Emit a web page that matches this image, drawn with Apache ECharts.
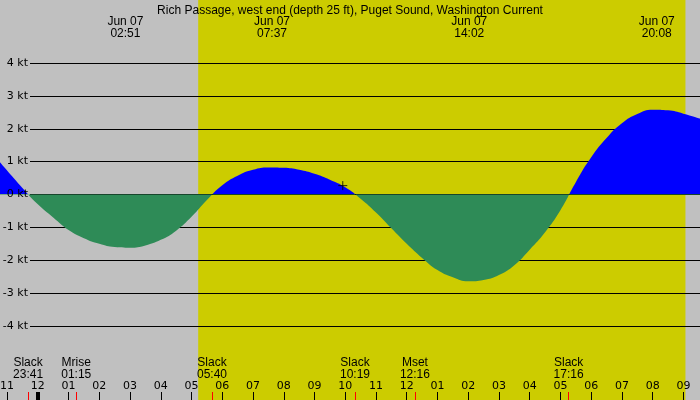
<!DOCTYPE html>
<html>
<head>
<meta charset="utf-8">
<script src="https://cdn.jsdelivr.net/npm/echarts@6/dist/echarts.min.js"></script>
<style>
  html, body { margin: 0; padding: 0; background: #c0c0c0; }
  #chart { width: 700px; height: 400px; }
</style>
</head>
<body>
<div id="chart"></div>
<script>
// tidal current, hours from Jun 07 00:00 (negative = Jun 06), read every half hour
const curHours = [-1.23, -0.5, 0, 0.5, 1, 1.5, 2, 2.5, 3, 3.5, 4, 4.5, 5, 5.5,
                  6, 6.5, 7, 7.5, 8, 8.5, 9, 9.5, 10, 10.5, 11, 11.5, 12, 12.5,
                  13, 13.5, 14, 14.5, 15, 15.5, 16, 16.5, 17, 17.5, 18, 18.5,
                  19, 19.5, 20, 20.5, 21, 21.54];
const curKnots = [0.98, 0.2, -0.3, -0.7, -1.08, -1.33, -1.5, -1.6, -1.62, -1.55, -1.38, -1.1, -0.68, -0.17,
                  0.28, 0.57, 0.75, 0.82, 0.81, 0.75, 0.63, 0.45, 0.22, -0.13, -0.55, -1.03, -1.5, -1.93,
                  -2.3, -2.52, -2.64, -2.6, -2.45, -2.15, -1.68, -1.15, -0.48, 0.37, 1.13, 1.72,
                  2.17, 2.45, 2.58, 2.56, 2.46, 2.31];

const hourTicks = [-1, 0, 1, 2, 3, 4, 5, 6, 7, 8, 9, 10, 11, 12, 13, 14, 15, 16, 17, 18, 19, 20, 21];

const eventNames = ['Slack', 'Mrise', 'Slack', 'Slack', 'Mset', 'Slack'];
const eventTimes = ['23:41', '01:15', '05:40', '10:19', '12:16', '17:16'];
const eventDays = [-1, 0, 0, 0, 0, 0];

const peakDates = ['Jun 07', 'Jun 07', 'Jun 07', 'Jun 07'];
const peakTimes = ['02:51', '07:37', '14:02', '20:08'];

const daylight = ['05:13', '21:04'];
const nowMark = [9.92, 0.27];

const X_MIN = -1.23, X_MAX = 21.54;

function toHour(s, day) {
    const p = s.split(':');
    return (day || 0) * 24 + Number(p[0]) + Number(p[1]) / 60;
}

const eventHours = eventTimes.map((t, i) => toHour(t, eventDays[i]));
const peakHours = peakTimes.map(t => toHour(t));
const dayStart = toHour(daylight[0]);
const dayEnd = toHour(daylight[1]);

const bottomFont = { fontFamily: 'DejaVu Sans', fontSize: 11, color: '#000' };

function timeAxis(extra) {
    return Object.assign({
        gridIndex: 2,
        type: 'value',
        min: X_MIN,
        max: X_MAX,
        position: 'bottom',
        z: 3,
        axisLine: { show: false },
        splitLine: { show: false },
    }, extra);
}

function ktAxis(extra) {
    return Object.assign({
        gridIndex: 1,
        type: 'value',
        position: 'left',
        min: -4,
        max: 4,
        interval: 1,
        axisLine: { show: false },
        axisTick: { show: false },
    }, extra);
}

const chart = echarts.init(document.getElementById('chart'));
chart.setOption({
    backgroundColor: '#c0c0c0',
    animation: false,
    title: {
        text: 'Rich Passage, west end (depth 25 ft), Puget Sound, Washington Current',
        left: 'center',
        top: 0,
        textStyle: { fontFamily: 'Liberation Sans', fontSize: 12, fontWeight: 'normal', color: '#000' }
    },
    grid: [
        { left: 0, right: 0, top: 63, bottom: 74, containLabel: false, outerBoundsMode: 'none' },
        { left: 30, right: 0, top: 63, bottom: 74, containLabel: false, outerBoundsMode: 'none' },
        { left: 0, right: 0, top: 0, bottom: 0, containLabel: false, outerBoundsMode: 'none' }
    ],
    visualMap: {
        type: 'piecewise',
        show: false,
        seriesIndex: 1,
        dimension: 1,
        pieces: [
            { gte: -10, lt: 0, color: '#2e8b57' },
            { gte: 0, lte: 10, color: '#0000ff' }
        ]
    },
    xAxis: [
        { gridIndex: 0, type: 'value', min: X_MIN, max: X_MAX, show: false },
        { gridIndex: 1, type: 'value', min: X_MIN, max: X_MAX, show: false },
        // hour ticks
        timeAxis({
            axisTick: { inside: true, length: 8, customValues: hourTicks, lineStyle: { color: '#000', width: 1 } },
            axisLabel: {
                inside: true,
                margin: 8,
                customValues: hourTicks,
                ...bottomFont,
                formatter: v => {
                    const h = ((Math.round(v) % 12) + 12) % 12 || 12;
                    return (h < 10 ? '0' : '') + h;
                }
            }
        }),
        // slack / moon events
        timeAxis({
            axisTick: { inside: true, length: 8, customValues: eventHours, lineStyle: { color: '#ff0000', width: 1 } },
            axisLabel: {
                inside: true,
                margin: 19,
                customValues: eventHours,
                fontFamily: 'Liberation Sans',
                fontSize: 12,
                lineHeight: 12,
                color: '#000',
                formatter: v => {
                    const i = eventHours.indexOf(v);
                    return eventNames[i] + '\n' + eventTimes[i];
                }
            }
        }),
        // midnight
        timeAxis({
            axisTick: { inside: true, length: 8, customValues: [0], lineStyle: { color: '#000', width: 4 } },
            axisLabel: { show: false }
        }),
        // peak labels at top
        timeAxis({
            position: 'top',
            axisTick: { show: false },
            axisLabel: {
                inside: true,
                margin: 16,
                customValues: peakHours,
                fontFamily: 'Liberation Sans',
                fontSize: 12,
                lineHeight: 12,
                color: '#000',
                formatter: v => {
                    const i = peakHours.indexOf(v);
                    return peakDates[i] + '\n' + peakTimes[i];
                }
            }
        })
    ],
    yAxis: [
        { gridIndex: 0, type: 'value', min: -4, max: 4, show: false },
        // kt lines, below the current
        ktAxis({
            z: 1,
            axisLabel: { show: false },
            splitLine: { lineStyle: { color: '#000', width: 1 } }
        }),
        { gridIndex: 2, type: 'value', min: 0, max: 1, show: false },
        // kt labels, above the current
        ktAxis({
            z: 5,
            splitLine: { show: false },
            axisLabel: { margin: 2, formatter: '{value} kt', ...bottomFont }
        })
    ],
    series: [
        {
            // daylight band
            type: 'custom',
            xAxisIndex: 2,
            yAxisIndex: 2,
            z: 0,
            silent: true,
            data: [[dayStart, dayEnd, 0, 1]],
            encode: { x: [0, 1], y: [2, 3] },
            renderItem: (params, api) => {
                const p0 = api.coord([api.value(0), 1]);
                const p1 = api.coord([api.value(1), 0]);
                return {
                    type: 'rect',
                    shape: { x: p0[0], y: p0[1], width: p1[0] - p0[0], height: p1[1] - p0[1] },
                    style: { fill: '#cccc00' }
                };
            }
        },
        {
            type: 'line',
            xAxisIndex: 0,
            yAxisIndex: 0,
            z: 2,
            smooth: 0.5,
            symbol: 'none',
            lineStyle: { width: 0 },
            areaStyle: { opacity: 1 },
            data: curHours.map((h, i) => [h, curKnots[i]])
        },
        {
            type: 'scatter',
            xAxisIndex: 0,
            yAxisIndex: 0,
            z: 4,
            symbol: 'path://M0,5L10,5M5,0L5,10',
            symbolSize: 9,
            itemStyle: { color: 'none', borderColor: '#000', borderWidth: 1 },
            data: [nowMark]
        }
    ]
});
</script>
</body>
</html>
